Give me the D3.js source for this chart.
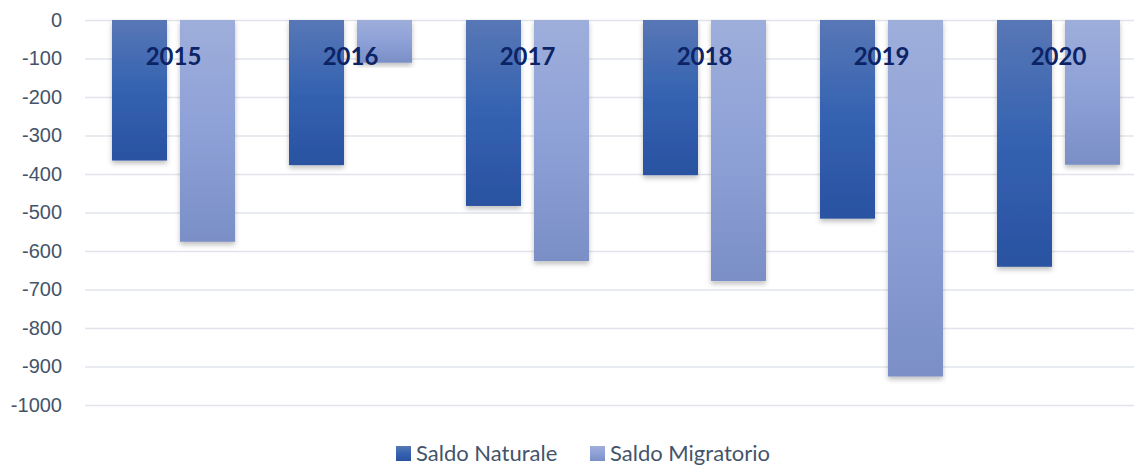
<!DOCTYPE html>
<html>
<head>
<meta charset="utf-8">
<script src="https://cdn.jsdelivr.net/npm/d3@7"></script>
<style>
  body { margin: 0; background: #fff; }
  svg { display: block; font-family: Lato, "Open Sans", sans-serif; }
</style>
</head>
<body>
<div id="chart-area"></div>
<script>

// Data
var years = ["2015", "2016", "2017", "2018", "2019", "2020"];
var seriesNames = ["Saldo Naturale", "Saldo Migratorio"];
var saldoNaturale = [-365, -377, -483, -403, -516, -641];
var saldoMigratorio = [-576, -111, -626, -678, -926, -376];
var yTicks = [0, -100, -200, -300, -400, -500, -600, -700, -800, -900, -1000];

var width = 1134, height = 466;

var svg = d3.select("#chart-area").append("svg")
    .attr("width", width)
    .attr("height", height);

var defs = svg.append("defs");

// gradients for the bars
var gradDark = defs.append("linearGradient")
    .attr("id", "grad-dark").attr("x1", 0).attr("y1", 0).attr("x2", 0).attr("y2", 1);
gradDark.append("stop").attr("offset", "0%").attr("stop-color", "#5877b6");
gradDark.append("stop").attr("offset", "50%").attr("stop-color", "#3462b1");
gradDark.append("stop").attr("offset", "100%").attr("stop-color", "#2a52a1");

var gradLight = defs.append("linearGradient")
    .attr("id", "grad-light").attr("x1", 0).attr("y1", 0).attr("x2", 0).attr("y2", 1);
gradLight.append("stop").attr("offset", "0%").attr("stop-color", "#9eaedb");
gradLight.append("stop").attr("offset", "50%").attr("stop-color", "#8ea1d7");
gradLight.append("stop").attr("offset", "100%").attr("stop-color", "#7a8fc6");

var shadow = defs.append("filter").attr("id", "shadow")
    .attr("x", "-20%").attr("y", "-5%").attr("width", "140%").attr("height", "115%");
shadow.append("feDropShadow")
    .attr("dx", 0).attr("dy", 3).attr("stdDeviation", 2.5)
    .attr("flood-color", "#000").attr("flood-opacity", 0.25);

// Scales
var x = d3.scaleBand()
    .domain(years)
    .range([85, 1147]);

var y = d3.scaleLinear()
    .domain([-1000, 0])
    .range([405, 20]);

var barW = 55, gap = 13;

// grid lines + tick labels (plain hyphen, not unicode minus)
var yAxis = d3.axisLeft(y)
    .tickValues(yTicks)
    .tickSize(-(width - 85))
    .tickFormat(function (d) { return String(d); });

var gAxis = svg.append("g")
    .attr("transform", "translate(85,0)")
    .call(yAxis);
gAxis.select(".domain").remove();
gAxis.selectAll(".tick line")
    .attr("stroke", "#e1e4ea")
    .attr("stroke-width", 1.5);
gAxis.selectAll(".tick text")
    .attr("x", -23)
    .attr("fill", "#44546a")
    .style("font-size", "20px");

// bars
var rows = years.map(function (d, i) {
    return { year: d, values: [saldoNaturale[i], saldoMigratorio[i]] };
});

var groups = svg.selectAll(".group")
    .data(rows)
    .enter().append("g")
    .attr("class", "group");

groups.selectAll("rect")
    .data(function (d) {
        return d.values.map(function (v, k) { return { year: d.year, value: v, k: k }; });
    })
    .enter().append("rect")
    .attr("x", function (d) {
        var c = x(d.year) + x.bandwidth() / 2;
        return d.k === 0 ? c - gap / 2 - barW : c + gap / 2;
    })
    .attr("y", y(0))
    .attr("width", barW)
    .attr("height", function (d) { return y(d.value) - y(0); })
    .attr("fill", function (d) { return d.k === 0 ? "url(#grad-dark)" : "url(#grad-light)"; })
    .attr("filter", "url(#shadow)");

// year labels
svg.selectAll(".year-label")
    .data(years)
    .enter().append("text")
    .attr("class", "year-label")
    .attr("x", function (d) { return x(d) + x.bandwidth() / 2; })
    .attr("y", 65)
    .attr("text-anchor", "middle")
    .attr("fill", "#0c2466")
    .style("font-size", "24px")
    .style("font-weight", "bold")
    .text(function (d) { return d; });

// legend
var legendX = [396, 590];
var legend = svg.selectAll(".legend")
    .data(seriesNames)
    .enter().append("g")
    .attr("class", "legend")
    .attr("transform", function (d, i) { return "translate(" + legendX[i] + ",446)"; });

legend.append("rect")
    .attr("width", 15).attr("height", 15)
    .attr("fill", function (d, i) { return i === 0 ? "url(#grad-dark)" : "url(#grad-light)"; });

legend.append("text")
    .attr("x", 20)
    .attr("y", 15)
    .attr("fill", "#44546a")
    .style("font-size", "22px")
    .text(function (d) { return d; });

</script>
</body>
</html>
